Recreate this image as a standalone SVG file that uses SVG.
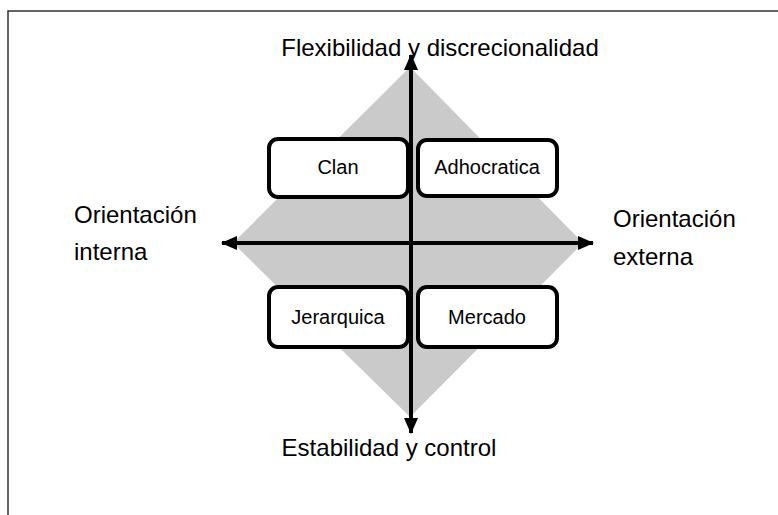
<svg xmlns="http://www.w3.org/2000/svg" width="778" height="515" viewBox="0 0 778 515">
<defs>
<style>
.box{fill:#fff;stroke:#000;stroke-width:4}
.lbl{font-family:"Liberation Sans",Arial,sans-serif;font-size:20px;fill:#000;text-anchor:middle}
.ax{font-family:"Liberation Sans",Arial,sans-serif;font-size:24px;fill:#000}
.axis{stroke:#000;stroke-width:4;fill:none}
</style>
<marker id="ah" markerUnits="userSpaceOnUse" markerWidth="16" markerHeight="14" refX="15" refY="7" orient="auto-start-reverse">
<path d="M0,0 L16,7 L0,14 Z" fill="#000"/>
</marker>
</defs>
<rect x="8" y="11" width="800" height="530" fill="#fff" stroke="#333" stroke-width="1.5"/>
<polygon id="diamond" points="410,67 583,243 410,417 233,243" fill="#cacaca"/>
<g id="connectors">
<line class="axis" x1="411" y1="55" x2="411" y2="433" marker-start="url(#ah)" marker-end="url(#ah)"/>
<line class="axis" x1="222" y1="243" x2="593" y2="243" marker-start="url(#ah)" marker-end="url(#ah)"/>
</g>
<g id="clan"><rect class="box" x="269" y="139" width="139" height="58" rx="9"/><text class="lbl" x="338" y="174">Clan</text></g>
<g id="adhocratica"><rect class="box" x="418" y="140" width="139" height="56" rx="9"/><text class="lbl" x="487" y="174">Adhocratica</text></g>
<g id="jerarquica"><rect class="box" x="269" y="287" width="139" height="60" rx="9"/><text class="lbl" x="338" y="324">Jerarquica</text></g>
<g id="mercado"><rect class="box" x="418" y="287" width="139" height="60" rx="9"/><text class="lbl" x="487" y="324">Mercado</text></g>
<g id="top-label"><text class="ax" x="440" y="56" text-anchor="middle">Flexibilidad y discrecionalidad</text></g>
<g id="bottom-label"><text class="ax" x="389" y="456" text-anchor="middle">Estabilidad y control</text></g>
<g id="left-label"><text class="ax" x="74" y="223">Orientación</text><text class="ax" x="74" y="260">interna</text></g>
<g id="right-label"><text class="ax" x="613" y="227">Orientación</text><text class="ax" x="613" y="265">externa</text></g>
</svg>
